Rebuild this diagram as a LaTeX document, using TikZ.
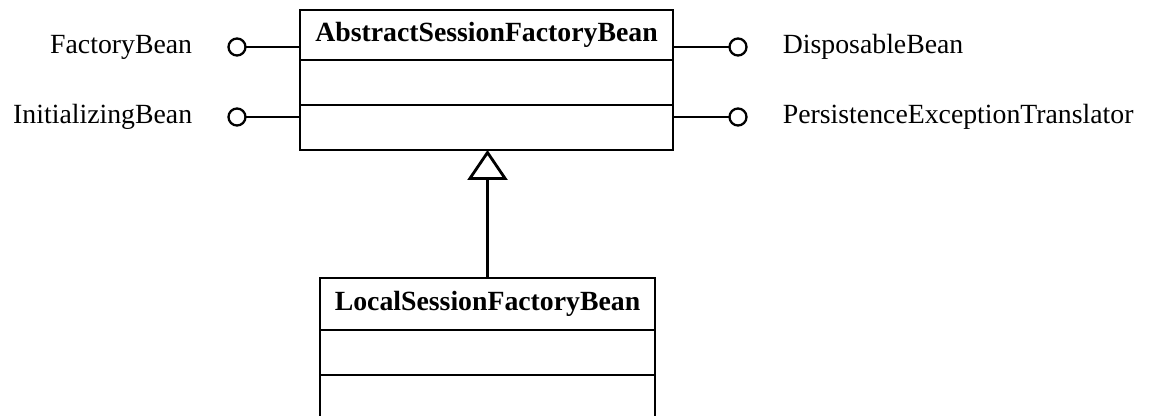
\documentclass[tikz,border=0pt]{standalone}
\usepackage{fontspec}
\setmainfont{Liberation Serif}
\usetikzlibrary{positioning,arrows.meta}

\begin{document}
\begin{tikzpicture}[font=\fontsize{15.8pt}{18pt}\selectfont, line width=1.6pt,
	classtitle/.style={draw, outer sep=0pt, inner sep=0pt, minimum height=1cm, font=\fontsize{15.8pt}{18pt}\selectfont\bfseries},
	classpart/.style={draw, outer sep=0pt, inner sep=0pt, minimum height=0.9cm},
	lolli/.style={draw, circle, outer sep=0pt, inner sep=0pt, minimum size=0.34cm, line width=1.3pt},
	iface/.style={inner sep=0pt}]
	
	\useasboundingbox (0,0) rectangle (22.98,-8.32);
	\clip (0,0) rectangle (22.98,-8.32);
	
	% abstract class
	\node[classtitle, minimum width=7.46cm] (asfb) at (9.73,-0.7) {AbstractSessionFactoryBean};
	\node[classpart, minimum width=7.46cm, below=0pt of asfb] (asfbA) {};
	\node[classpart, minimum width=7.46cm, below=0pt of asfbA] (asfbB) {};
	
	% subclass
	\node[classtitle, minimum width=6.7cm, minimum height=1.04cm] (lsfb) at (9.75,-6.08) {LocalSessionFactoryBean};
	\node[classpart, minimum width=6.7cm, below=0pt of lsfb] (lsfbA) {};
	\node[classpart, minimum width=6.7cm, below=0pt of lsfbA] (lsfbB) {};
	
	% interfaces
	\node[lolli] (fbc) at (4.74,-0.94) {};
	\node[lolli] (ibc) at (4.74,-2.34) {};
	\node[lolli] (dbc) at (14.76,-0.94) {};
	\node[lolli] (petc) at (14.76,-2.34) {};
	
	\node[iface, left=0.7cm of fbc] (fbl) {FactoryBean};
	\node[iface, left=0.7cm of ibc] (ibl) {InitializingBean};
	\node[iface, right=0.7cm of dbc] (dbl) {DisposableBean};
	\node[iface, right=0.7cm of petc] (petl) {PersistenceExceptionTranslator};
	
	\draw (fbc) -- (fbc -| asfb.west);
	\draw (ibc) -- (ibc -| asfbB.west);
	\draw (dbc) -- (dbc -| asfb.east);
	\draw (petc) -- (petc -| asfbB.east);
	
	% generalization
	\draw[-{Triangle[open, width=0.8cm, length=0.6cm]}] (lsfb.north) -- (lsfb.north |- asfbB.south);
	
\end{tikzpicture}
\end{document}
